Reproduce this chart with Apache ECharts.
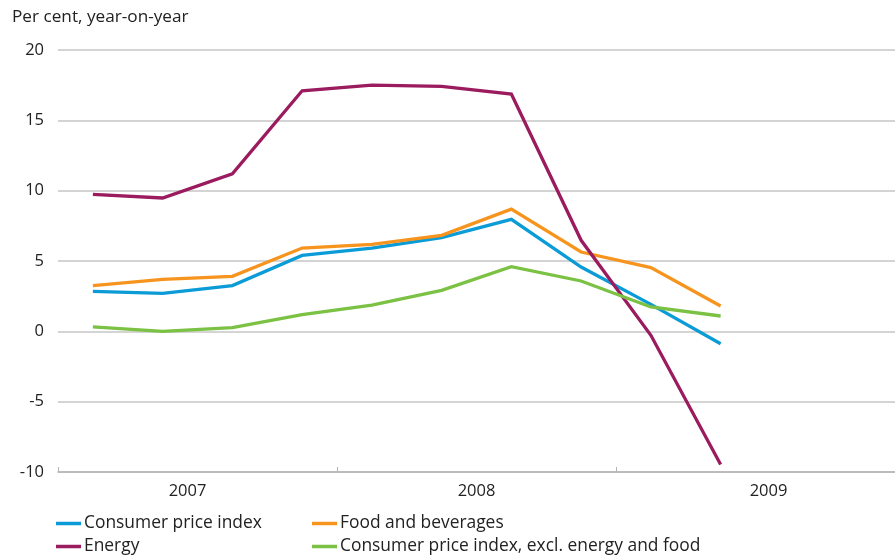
<!DOCTYPE html>
<html>
<head>
<meta charset="utf-8">
<script src="https://cdn.jsdelivr.net/npm/echarts@6/dist/echarts.min.js"></script>
<style>
  html, body { margin: 0; padding: 0; background: #fff; }
  #chart { width: 895px; height: 559px; }
</style>
</head>
<body>
<div id="chart"></div>
<script>
// Quarterly periods, 2007 Q1 – 2009 Q4
const quarters = ['2007Q1','2007Q2','2007Q3','2007Q4','2008Q1','2008Q2','2008Q3','2008Q4','2009Q1','2009Q2','2009Q3','2009Q4'];
const years = ['2007', '2008', '2009'];

// Year-on-year change, per cent
const cpi        = [2.84, 2.70, 3.25, 5.40, 5.92, 6.66, 7.96, 4.57, 1.92, -0.88];
const food       = [3.25, 3.70, 3.91, 5.92, 6.18, 6.82, 8.69, 5.64, 4.53, 1.80];
const energy     = [9.74, 9.48, 11.20, 17.10, 17.50, 17.41, 16.87, 6.47, -0.28, -9.47];
const cpiCore    = [0.31, 0.00, 0.26, 1.18, 1.87, 2.91, 4.60, 3.58, 1.73, 1.09];

const names = {
  cpi: 'Consumer price index',
  food: 'Food and beverages',
  energy: 'Energy',
  core: 'Consumer price index, excl. energy and food'
};

const FONT = '"Open Sans", "Noto Sans", sans-serif';
const TEXT = '#222222';

const chart = echarts.init(document.getElementById('chart'), null, { renderer: 'canvas' });

const line = (name, data, color) => ({
  name, type: 'line', data, xAxisIndex: 0,
  symbol: 'none', smooth: false,
  lineStyle: { width: 3.3, color, join: 'miter' },
  itemStyle: { color },
  emphasis: { disabled: true }
});

const legendBase = {
  orient: 'vertical',
  icon: 'rect',
  itemWidth: 25,
  itemHeight: 3.5,
  itemGap: 6,
  padding: 0,
  height: 50,
  textStyle: { fontFamily: FONT, fontSize: 17.4, lineHeight: 17, color: TEXT, padding: [0, 0, 0, -2] },
  selectedMode: false
};

chart.setOption({
  animation: false,
  backgroundColor: '#ffffff',
  title: {
    text: 'Per cent, year-on-year',
    left: 7, top: 4,
    textStyle: { fontFamily: FONT, fontSize: 17.2, fontWeight: 'normal', color: TEXT }
  },
  legend: [
    Object.assign({}, legendBase, { left: 56, top: 515, data: [names.cpi, names.energy] }),
    Object.assign({}, legendBase, { left: 312, top: 515, data: [names.food, names.core] })
  ],
  grid: { left: 58, right: -3, top: 50, bottom: 87, containLabel: false },
  xAxis: [
    {
      type: 'category', data: quarters, boundaryGap: true, show: false
    },
    {
      type: 'category', data: years, boundaryGap: true, position: 'bottom',
      axisLine: { show: true, lineStyle: { color: '#b4b4b4', width: 1.5 } },
      axisTick: { show: true, inside: true, length: 5, lineStyle: { color: '#b4b4b4', width: 1 } },
      axisLabel: {
        fontFamily: FONT, fontSize: 16.5, color: TEXT, margin: 11,
        // year labels sit slightly off the year centres
        formatter: (v) => '{' + ('y' + v) + '|' + v + '}',
        rich: {
          y2007: { fontFamily: FONT, fontSize: 16.5, color: TEXT, padding: [0, 20, 0, 0] },
          y2008: { fontFamily: FONT, fontSize: 16.5, color: TEXT },
          y2009: { fontFamily: FONT, fontSize: 16.5, color: TEXT, padding: [0, 0, 0, 26] }
        }
      },
      splitLine: { show: false }
    }
  ],
  yAxis: {
    type: 'value', min: -10, max: 20, interval: 5,
    axisLine: { show: false },
    axisTick: { show: false },
    axisLabel: { fontFamily: FONT, fontSize: 16.5, color: TEXT, margin: 14 },
    splitLine: { lineStyle: { color: '#c6c6c6', width: 1.5 } }
  },
  series: [
    line(names.cpi, cpi, '#0b9bd7'),
    line(names.food, food, '#f7941e'),
    line(names.energy, energy, '#9b1b5f'),
    line(names.core, cpiCore, '#7bc143')
  ]
});
</script>
</body>
</html>
